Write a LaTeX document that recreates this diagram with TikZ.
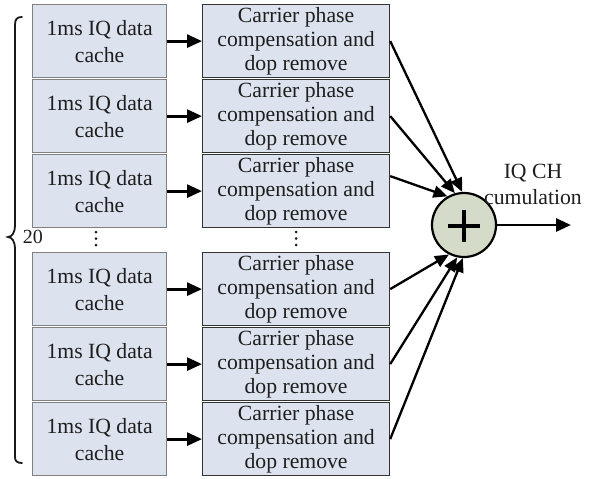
\documentclass[tikz,border=0pt]{standalone}
\usepackage{fontspec}
\setmainfont{Liberation Serif}
\usetikzlibrary{arrows.meta,calc}
\definecolor{boxfill}{HTML}{DCE3EE}
\definecolor{sumfill}{HTML}{D4DBC8}
\definecolor{txt}{HTML}{1E1E1E}
\begin{document}
\begin{tikzpicture}[x=1pt,y=-1pt,
  lbox/.style={draw=black!50,line width=1.2pt,fill=boxfill,text=txt,
    minimum width=134pt,minimum height=73pt,inner sep=0pt,anchor=north west,
    align=center,font=\fontsize{21.7}{27}\selectfont},
  rbox/.style={draw=black!80,line width=1.2pt,fill=boxfill,text=txt,
    minimum width=187pt,minimum height=73pt,inner sep=0pt,anchor=north west,
    align=center,font=\fontsize{21.7}{24}\selectfont},
  link/.style={line width=2.8pt,-{Triangle[length=15pt,width=13pt]}},
  feed/.style={line width=2.3pt,-{Triangle[length=14pt,width=12pt]}},
  sumnode/.style={circle,draw=black,line width=2.2pt,fill=sumfill,minimum size=64pt,inner sep=0pt},
  dot/.style={circle,fill=txt,inner sep=0pt,minimum size=3pt},
  lbl/.style={text=txt,font=\fontsize{21.7}{26}\selectfont,align=center}]
\useasboundingbox (0,0) rectangle (589,479);

% cache column and compensation column
\foreach \i/\y in {1/4,2/79,3/154,4/252,5/327,6/402}{
  \node[lbox] (l\i) at (32,\y) {1ms IQ data\\cache};
  \node[rbox] (r\i) at (202,\y) {Carrier phase\\compensation and\\dop remove};
  \draw[link] (l\i.east) -- (r\i.west);
}

% elided rows
\foreach \x/\c in {96/l,296/r}{
  \node[dot] (\c a) at (\x,232) {};
  \node[dot] (\c b) at (\x,238.5) {};
  \node[dot] (\c c) at (\x,245) {};
}

% summing junction
\node[sumnode] (sum) at (464,225) {};
\draw[line width=4.2pt] ($(sum.center)+(-16,1)$) -- ($(sum.center)+(16,1)$);
\draw[line width=4.2pt] ($(sum.center)+(0,-15)$) -- ($(sum.center)+(0,17)$);

\draw[feed] (r1.east) -- (sum.93);
\draw[feed] (r2.east) -- (sum.106);
\draw[feed] ($(r3.east)+(0,-15)$) -- (sum.120);
\draw[feed] (r4.east) -- (sum.243);
\draw[feed] (r5.east) -- (sum.258);
\draw[feed] (r6.east) -- (sum.268);

\coordinate (out) at (571,225);
\draw[link] (sum.east) -- (out);
\node[lbl] (cum) at (533,184) {IQ CH\\cumulation};

% brace spanning the twenty rows
\draw[line width=1.8pt,line cap=round,black!90] (22,17) .. controls (17,17) and (15,19) .. (15,25) -- (15,226)
  .. controls (15,232) and (12,237) .. (8,237)
  .. controls (12,237) and (15,242) .. (15,248) -- (15,457)
  .. controls (15,461) and (17,463) .. (22,463);
\node[text=txt,font=\fontsize{20}{24}\selectfont] (cnt) at (33,237) {20};
\end{tikzpicture}
\end{document}
